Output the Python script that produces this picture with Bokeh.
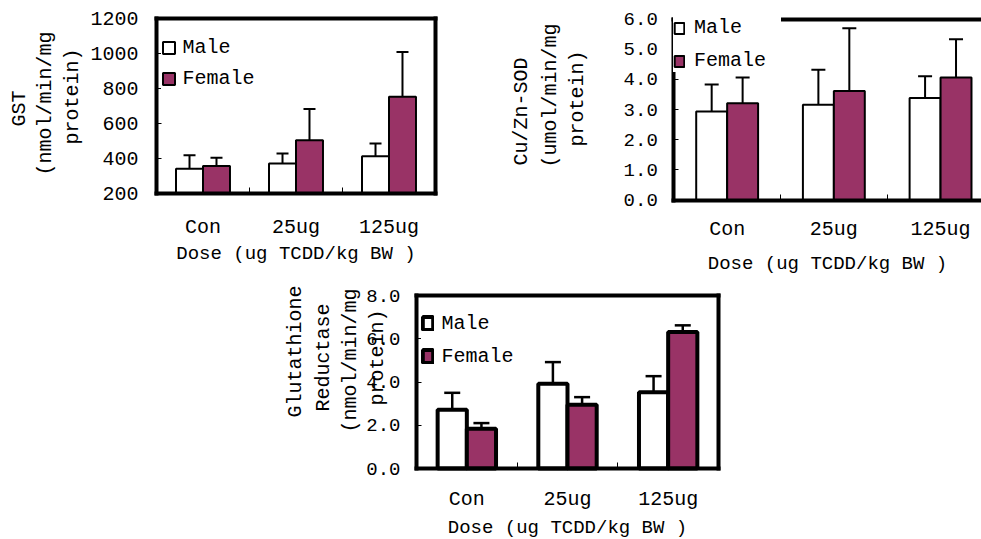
from math import pi

from bokeh.plotting import figure
from bokeh.models import (ColumnDataSource, Whisker, TeeHead, Legend, LegendItem,
                          FixedTicker, LinearAxis, Label, Range1d, NumeralTickFormatter)
from bokeh.embed import file_html
from bokeh.resources import INLINE

# ---------------- data ----------------
categories = ["Con", "25ug", "125ug"]
series_names = ["Male", "Female"]

gst_male = [342, 371, 413]
gst_male_err = [76, 57, 73]
gst_female = [357, 505, 753]
gst_female_err = [48, 178, 256]

sod_male = [2.93, 3.16, 3.38]
sod_male_err = [0.90, 1.16, 0.72]
sod_female = [3.21, 3.61, 4.06]
sod_female_err = [0.85, 2.08, 1.27]

gr_male = [2.72, 3.92, 3.53]
gr_male_err = [0.78, 1.00, 0.74]
gr_female = [1.84, 2.95, 6.31]
gr_female_err = [0.26, 0.35, 0.31]

gst_ticks = [200, 400, 600, 800, 1000, 1200]
sod_ticks = [0, 1, 2, 3, 4, 5, 6]
gr_ticks = [0, 2, 4, 6, 8]

x_title = "Dose (ug TCDD/kg BW )"
gst_ylabel = ["GST", "(nmol/min/mg", "protein)"]
sod_ylabel = ["Cu/Zn-SOD", "(umol/min/mg", "protein)"]
gr_ylabel = ["Glutathione", "Reductase", "(nmol/min/mg", "protein)"]

# ---------------- style / layout ----------------
FONT = "Liberation Mono"
FEMALE = "#993366"
W, H = 981, 539
LEG_DX, LEG_DY = 5, 5   # compensation for the legend's own offset

p = figure(width=W, height=H, x_range=Range1d(0, W), y_range=Range1d(0, H),
           x_axis_location=None, y_axis_location=None, title=None,
           output_backend="svg", toolbar_location=None,
           min_border=0, min_border_left=0, min_border_right=0,
           min_border_top=0, min_border_bottom=0,
           outline_line_color=None, background_fill_color="white",
           border_fill_color="white")
p.grid.visible = False


def add_panel(name, male, male_err, female, female_err, yticks, ylo, yhi, fmt,
              box, bar_lw, wh_lw, cap, ytick_size, ytick_standoff,
              xtick_standoff, xtitle_standoff, ylabel_lines, ylabel_centers,
              leg_left, leg_bottom, leg_glyph, leg_pad, leg_spacing, leg_standoff,
              leg_label_w):
    px0, px1, py_top, py_bot = box
    sx = (px1 - px0) / 3.0
    sy = (py_bot - py_top) / (yhi - ylo)
    xname, yname = "x_" + name, "y_" + name
    p.extra_x_ranges = {**p.extra_x_ranges,
                        xname: Range1d(0.5 - px0 / sx, 0.5 + (W - px0) / sx)}
    p.extra_y_ranges = {**p.extra_y_ranges,
                        yname: Range1d(ylo - (H - py_bot) / sy, ylo + py_bot / sy)}

    xs = [i + 1 for i in range(len(categories))]
    src = ColumnDataSource(dict(
        xm=[x - 0.145 for x in xs],
        xf=[x + 0.145 for x in xs],
        male=male, female=female,
        male_hi=[v + e for v, e in zip(male, male_err)],
        female_hi=[v + e for v, e in zip(female, female_err)],
    ))
    rng = dict(x_range_name=xname, y_range_name=yname)

    rm = p.vbar(x="xm", width=0.29, bottom=ylo, top="male", source=src,
                fill_color="white", line_color="black", line_width=bar_lw, **rng)
    rf = p.vbar(x="xf", width=0.29, bottom=ylo, top="female", source=src,
                fill_color=FEMALE, line_color="black", line_width=bar_lw, **rng)

    for xcol, lo, hi in (("xm", "male", "male_hi"), ("xf", "female", "female_hi")):
        p.add_layout(Whisker(source=src, base=xcol, lower=lo, upper=hi, dimension="height",
                             line_color="black", line_width=wh_lw,
                             upper_head=TeeHead(size=cap, line_width=wh_lw, line_color="black"),
                             lower_head=None, **rng))

    line = dict(axis_line_width=4, axis_line_color="black", axis_line_cap="square")
    no_ticks = dict(major_tick_in=0, major_tick_out=0, minor_tick_in=0, minor_tick_out=0)

    left = LinearAxis(fixed_location=0.5, bounds=(ylo, yhi),
                      ticker=FixedTicker(ticks=yticks),
                      formatter=NumeralTickFormatter(format=fmt),
                      major_tick_in=5, major_tick_out=0, minor_tick_in=0, minor_tick_out=0,
                      major_tick_line_color="black",
                      major_label_text_font=FONT, major_label_text_font_size=ytick_size,
                      major_label_text_color="black", major_label_standoff=ytick_standoff,
                      **line, **rng)
    p.add_layout(left, "left")

    bottom = LinearAxis(fixed_location=ylo, bounds=(0.5, 3.5),
                        ticker=FixedTicker(ticks=xs, minor_ticks=[1.5, 2.5]),
                        major_label_overrides={x: c for x, c in zip(xs, categories)},
                        major_tick_in=0, major_tick_out=0, minor_tick_in=6, minor_tick_out=0,
                        minor_tick_line_color="black",
                        major_label_text_font=FONT, major_label_text_font_size="20px",
                        major_label_text_color="black", major_label_standoff=xtick_standoff,
                        axis_label=x_title, axis_label_text_font=FONT,
                        axis_label_text_font_size="19px", axis_label_text_font_style="normal",
                        axis_label_text_color="black", axis_label_standoff=xtitle_standoff,
                        **line, **rng)
    p.add_layout(bottom, "below")

    top = LinearAxis(fixed_location=yhi, bounds=(0.5, 3.5), ticker=FixedTicker(ticks=[]),
                     major_label_text_font_size="0px", **no_ticks, **line, **rng)
    p.add_layout(top, "above")
    right = LinearAxis(fixed_location=3.5, bounds=(ylo, yhi), ticker=FixedTicker(ticks=[]),
                       major_label_text_font_size="0px", **no_ticks, **line, **rng)
    p.add_layout(right, "right")

    for text, (cx, cy) in zip(ylabel_lines, ylabel_centers):
        p.add_layout(Label(x=cx, y=H - cy, text=text, angle=pi / 2,
                           text_align="center", text_baseline="middle",
                           text_font=FONT, text_font_size="20px", text_color="black"))

    leg = Legend(items=[LegendItem(label=series_names[0], renderers=[rm]),
                        LegendItem(label=series_names[1], renderers=[rf])],
                 location=(leg_left + LEG_DX, H - leg_bottom + LEG_DY),
                 orientation="vertical",
                 glyph_width=leg_glyph[0], glyph_height=leg_glyph[1],
                 label_standoff=leg_standoff, padding=leg_pad, spacing=leg_spacing,
                 margin=0, border_line_color=None,
                 background_fill_color="white", background_fill_alpha=1.0,
                 label_text_font=FONT, label_text_font_size="20px",
                 label_text_color="black", label_width=leg_label_w)
    p.add_layout(leg)


add_panel("gst", gst_male, gst_male_err, gst_female, gst_female_err,
          gst_ticks, 200, 1200, "0",
          box=(156, 435, 18, 193), bar_lw=2, wh_lw=2, cap=12,
          ytick_size="20px", ytick_standoff=18, xtick_standoff=22, xtitle_standoff=1,
          ylabel_lines=gst_ylabel, ylabel_centers=[(19, 108), (45, 103), (72, 96)],
          leg_left=155.5, leg_bottom=95, leg_glyph=(15, 15), leg_pad=8, leg_spacing=8,
          leg_standoff=7, leg_label_w=20)

add_panel("sod", sod_male, sod_male_err, sod_female, sod_female_err,
          sod_ticks, 0, 6, "0.0",
          box=(673.3, 993.4, 18.5, 199.5), bar_lw=2, wh_lw=2, cap=14,
          ytick_size="19px", ytick_standoff=16, xtick_standoff=18, xtitle_standoff=8,
          ylabel_lines=sod_ylabel, ylabel_centers=[(521, 111), (550, 95), (577, 98)],
          leg_left=668, leg_bottom=77, leg_glyph=(12, 14), leg_pad=4, leg_spacing=10,
          leg_standoff=9, leg_label_w=87)

add_panel("gr", gr_male, gr_male_err, gr_female, gr_female_err,
          gr_ticks, 0, 8, "0.0",
          box=(416, 718, 295, 468), bar_lw=4, wh_lw=2.5, cap=16,
          ytick_size="19px", ytick_standoff=16, xtick_standoff=19, xtitle_standoff=3,
          ylabel_lines=gr_ylabel,
          ylabel_centers=[(295, 351), (323, 357), (350, 360), (377, 357)],
          leg_left=415.5, leg_bottom=372.5, leg_glyph=(13, 16), leg_pad=6, leg_spacing=10,
          leg_standoff=8, leg_label_w=20)

open("out.html", "w").write(file_html(p, INLINE))
